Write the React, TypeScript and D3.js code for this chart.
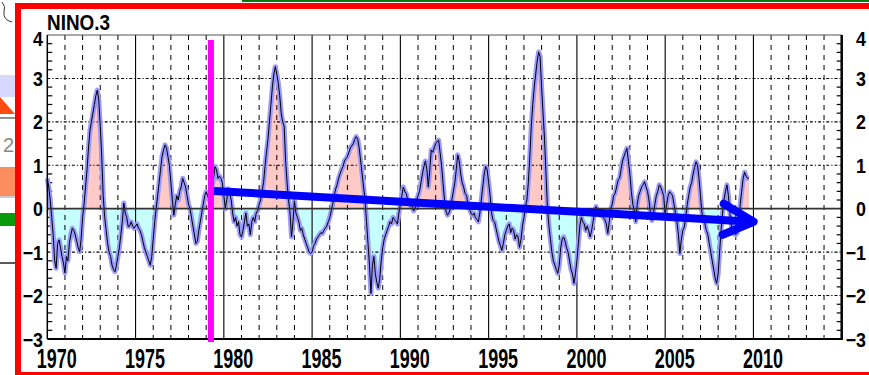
import React from 'react';
import * as d3 from 'd3';

const startYear = 1970;
const nino1970s = [
  0.7, 0.5, 0.2, -0.2, -0.6, -1.2, -1.37, -0.8, -0.72, -0.9, -1.1, -1.25,
  -1.48, -1.1, -1.2, -0.8, -0.6, -0.45, -0.5, -0.6, -0.75, -0.9, -0.99, -0.7,
  -0.2, 0.1, 0.5, 0.9, 1.4, 1.8, 2.0, 2.2, 2.4, 2.6, 2.73, 2.5,
  1.9, 1.2, 0.3, -0.2, -0.5, -0.8, -1.0, -1.1, -1.3, -1.4, -1.45, -1.3,
  -1.1, -0.9, -0.6, -0.3, 0.13, -0.1, -0.2, -0.41, -0.4, -0.3, -0.4, -0.45,
  -0.4, -0.35, -0.45, -0.5, -0.6, -0.75, -0.9, -1.0, -1.1, -1.2, -1.3, -1.1,
  -0.7, -0.3, 0.0, 0.3, 0.6, 0.9, 1.2, 1.35, 1.47, 1.4, 1.2, 1.0,
  0.6, 0.2, -0.15, 0.1, 0.3, 0.2, 0.4, 0.5, 0.7, 0.6, 0.5, 0.3,
  0.1, 0.0, -0.2, -0.4, -0.6, -0.8, -0.75, -0.5, -0.3, -0.1, 0.1, 0.3,
  0.39, 0.3, 0.2, 0.3, 0.5, 0.7, 0.97, 0.9, 0.7, 0.75, 0.7, 0.6,
];
const nino1980s = [
  0.3, 0.0, 0.2, 0.46, 0.35, 0.2, -0.1, -0.3, -0.2, -0.4, -0.3, -0.6,
  -0.65, -0.5, -0.3, -0.1, -0.4, -0.35, -0.6, -0.3, -0.2, -0.3, -0.1, -0.05,
  0.1, 0.2, 0.4, 0.6, 0.97, 1.3, 1.6, 2.0, 2.4, 2.8, 3.1, 3.27,
  3.1, 2.9, 2.6, 2.2, 2.0, 1.9, 1.1, 0.6, 0.2, -0.1, -0.65, -0.3,
  0.18, -0.1, -0.2, -0.3, -0.5, -0.45, -0.6, -0.7, -0.8, -0.9, -1.0, -1.03,
  -1.0, -0.85, -0.8, -0.7, -0.65, -0.6, -0.55, -0.57, -0.5, -0.45, -0.4, -0.3,
  -0.2, -0.05, 0.1, 0.3, 0.45, 0.55, 0.7, 0.8, 0.9, 0.97, 1.1, 1.15,
  1.2, 1.3, 1.4, 1.45, 1.5, 1.6, 1.66, 1.6, 1.4, 1.1, 0.8, 0.5,
  0.2, -0.3, -0.8, -1.3, -1.95, -1.3, -1.1, -1.5, -1.7, -1.83, -1.6, -1.2,
  -0.9, -0.7, -0.6, -0.5, -0.41, -0.3, -0.35, -0.2, -0.25, -0.3, -0.35, -0.1,
];
const nino1990s = [
  0.1, 0.3, 0.5, 0.4, 0.35, 0.2, 0.15, 0.05, 0.1, -0.05, 0.0, 0.2,
  0.3, 0.4, 0.6, 0.8, 0.97, 1.1, 0.9, 0.5, 0.9, 1.35, 1.3, 1.4,
  1.5, 1.55, 1.58, 1.3, 1.0, 0.6, 0.2, -0.05, -0.15, -0.1, 0.0, 0.2,
  0.4, 0.6, 0.9, 1.24, 1.1, 0.8, 0.6, 0.5, 0.35, 0.3, 0.1, 0.0,
  -0.1, -0.15, -0.1, -0.2, -0.25, -0.3, -0.1, 0.2, 0.5, 0.8, 0.97, 0.9,
  0.6, 0.3, -0.1, -0.27, -0.3, -0.45, -0.6, -0.75, -0.85, -0.96, -0.8, -0.6,
  -0.5, -0.4, -0.35, -0.55, -0.45, -0.5, -0.7, -0.6, -0.65, -0.89, -0.7, -0.4,
  -0.2, 0.05, 0.2, 0.6, 1.2, 1.9, 2.4, 2.8, 3.1, 3.4, 3.61, 3.5,
  2.8, 2.2, 1.6, 0.8, 0.0, -0.4, -0.7, -1.0, -1.2, -1.3, -1.4, -1.49,
  -1.3, -0.9, -0.7, -0.65, -0.75, -0.9, -1.0, -1.2, -1.4, -1.5, -1.72, -1.5,
];
const nino2000s = [
  -1.2, -0.8, -0.4, -0.2, -0.3, -0.35, -0.5, -0.4, -0.5, -0.65, -0.5, -0.3,
  -0.1, 0.05, -0.05, -0.1, -0.15, -0.05, -0.2, -0.25, -0.35, -0.57, -0.3, 0.0,
  0.1, 0.3, 0.35, 0.5, 0.66, 0.7, 0.9, 1.1, 1.2, 1.3, 1.39, 1.1,
  0.8, 0.4, 0.1, -0.03, -0.3, 0.1, 0.3, 0.4, 0.5, 0.55, 0.62, 0.5,
  0.4, 0.2, -0.1, -0.27, -0.1, 0.1, 0.3, 0.4, 0.55, 0.5, 0.4, 0.3,
  -0.15, 0.1, 0.3, 0.39, 0.35, 0.3, 0.1, -0.1, -0.3, -0.6, -1.03, -0.7,
  -0.5, -0.42, -0.2, 0.1, 0.3, 0.5, 0.6, 0.8, 0.95, 1.08, 1.0, 0.7,
  0.3, -0.1, -0.2, -0.35, -0.5, -0.6, -0.8, -1.0, -1.2, -1.4, -1.6, -1.72,
  -1.5, -1.0, -0.5, -0.1, 0.2, 0.4, 0.55, 0.3, -0.1, -0.4, -0.57, -0.55,
  -0.6, -0.55, -0.3, 0.1, 0.4, 0.7, 0.84, 0.75, 0.7, 0.7,
];

const xLabelYears = [1970, 1975, 1980, 1985, 1990, 1995, 2000, 2005, 2010];
const yTickValues = [-3, -2, -1, 0, 1, 2, 3, 4];
const chartTitle = 'NINO.3';
const markerYear = 1979.27;
const trendFrom = { t: 1979.44, v: 0.41 };
const trendTo = { t: 2009.9, v: -0.3 };

const W = 869;
const H = 375;
const FONT = "'Liberation Sans', Arial, sans-serif";

export default function App() {
  const x = d3.scaleLinear().domain([1970, 2015]).range([47.3, 841.7]);
  const y = d3.scaleLinear().domain([-3, 4]).range([339, 35]);
  const values = [...nino1970s, ...nino1980s, ...nino1990s, ...nino2000s];
  const data = values.map((v, i) => ({ t: startYear + i / 12, v }));

  const line = d3.line<{ t: number; v: number }>().x(d => x(d.t)).y(d => y(d.v));
  const area = d3
    .area<{ t: number; v: number }>()
    .x(d => x(d.t))
    .y0(y(0))
    .y1(d => y(d.v));

  const [x0, x1] = x.range();
  const [yb, yt] = y.range();
  const y0 = y(0);

  const allYears = d3.range(1971, 2015);
  const minorTicks = d3.range(-3, 4.001, 0.2).filter(v => Math.abs(v - Math.round(v)) > 0.01);

  const fmt = (v: number) => (v < 0 ? '\u2212' + Math.abs(v) : String(v));

  const tipX = x(trendTo.t) + 2;
  const tipY = y(trendTo.v);

  return (
    <svg
      width={W}
      height={H}
      style={{ position: 'absolute', left: 0, top: 0, background: '#fff' }}
      fontFamily={FONT}
    >
      <defs>
        <clipPath id="posClip">
          <rect x={x0} y={yt} width={x1 - x0} height={y0 - yt} />
        </clipPath>
        <clipPath id="negClip">
          <rect x={x0} y={y0} width={x1 - x0} height={yb - y0} />
        </clipPath>
      </defs>
      <rect x={0} y={0} width={W} height={H} fill="#fff" />

      {/* fragments of neighbouring content outside the frame */}
      <rect x={0} y={75} width={15} height={22} fill="#d8d8ff" />
      <polygon points="0,97 15,114 0,114" fill="#ff4a10" />
      <line x1={0} y1={118} x2={15} y2={118} stroke="#222" strokeWidth={1} />
      <text x={14} y={152} fontSize={20} fill="#888" textAnchor="end">2</text>
      <rect x={0} y={167} width={15} height={29} fill="#fb8d5f" />
      <line x1={0} y1={197} x2={15} y2={197} stroke="#999" strokeWidth={1} />
      <rect x={0} y={213} width={15} height={13} fill="#0a9a0a" />
      <line x1={0} y1={263} x2={15} y2={263} stroke="#222" strokeWidth={1.5} />
      <path d="M2,2 Q6,6 4,12 Q3,20 12,22" fill="none" stroke="#333" strokeWidth={1} />
      <rect x={242} y={0} width={W - 242} height={2} fill="#0a7a0a" />

      {/* red frame */}
      <rect x={18} y={6} width={W + 20} height={369} fill="none" stroke="#ff0000" strokeWidth={6} />

      {/* title */}
      <text x={47} y={30} fontSize={22} fontWeight="bold" textLength={63} lengthAdjust="spacingAndGlyphs">
        {chartTitle}
      </text>

      {/* data fills */}
      <path d={area(data) || ''} fill="#ffc9c6" clipPath="url(#posClip)" />
      <path d={area(data) || ''} fill="#c6ffff" clipPath="url(#negClip)" />

      {/* grid */}
      {allYears.map(yr =>
        yr % 5 === 0 ? (
          <line key={'v' + yr} x1={x(yr)} x2={x(yr)} y1={yt} y2={yb} stroke="#000" strokeWidth={1.1} />
        ) : (
          <line
            key={'v' + yr}
            x1={x(yr)}
            x2={x(yr)}
            y1={yt}
            y2={yb}
            stroke="#000"
            strokeWidth={1}
            strokeDasharray="5,5"
          />
        )
      )}
      {yTickValues
        .filter(v => v !== 0 && v !== -3 && v !== 4)
        .map(v => (
          <line
            key={'h' + v}
            x1={x0}
            x2={x1}
            y1={y(v)}
            y2={y(v)}
            stroke="#000"
            strokeWidth={1.1}
            strokeDasharray="3,2,1.2,2"
          />
        ))}
      {minorTicks.map(v => (
        <g key={'m' + v.toFixed(1)}>
          <line x1={x0} x2={x0 + 5} y1={y(v)} y2={y(v)} stroke="#000" strokeWidth={1.2} />
          <line x1={x1 - 5} x2={x1} y1={y(v)} y2={y(v)} stroke="#000" strokeWidth={1.2} />
        </g>
      ))}

      {/* series */}
      <path d={line(data) || ''} fill="none" stroke="#9a9aff" strokeWidth={5} strokeLinejoin="round" />
      <path d={line(data) || ''} fill="none" stroke="#000" strokeWidth={1} strokeLinejoin="round" />

      {/* zero line */}
      <line x1={x0} x2={x1} y1={y0} y2={y0} stroke="#333" strokeWidth={1.8} />

      {/* frame of the plot */}
      <line x1={x0} x2={x1} y1={yt} y2={yt} stroke="#555" strokeWidth={1.2} />
      <line x1={x0} x2={x0} y1={yt} y2={yb} stroke="#000" strokeWidth={1.5} />
      <line x1={x1} x2={x1} y1={yt} y2={yb + 1} stroke="#000" strokeWidth={2.5} />
      <line x1={x0} x2={x1} y1={yb} y2={yb} stroke="#000" strokeWidth={2.2} />

      {/* y labels */}
      {yTickValues.map(v => (
        <g key={'yl' + v}>
          <text
            x={43}
            y={y(v) + (v === 4 ? 3 : 0)}
            fontSize={21}
            fontWeight="bold"
            textAnchor="end"
            dominantBaseline="central"
            transform={`translate(43,0) scale(0.85,1) translate(-43,0)`}
          >
            {fmt(v)}
          </text>
          <text
            x={866}
            y={y(v) + (v === 4 ? 3 : 0)}
            fontSize={21}
            fontWeight="bold"
            textAnchor="end"
            dominantBaseline="central"
            transform={`translate(866,0) scale(0.85,1) translate(-866,0)`}
          >
            {fmt(v)}
          </text>
        </g>
      ))}

      {/* x labels */}
      {xLabelYears.map(yr => (
        <text
          key={'xl' + yr}
          x={x(yr) + 9.5 - 20}
          y={368}
          fontSize={28}
          fontWeight="bold"
          textLength={40}
          lengthAdjust="spacingAndGlyphs"
        >
          {yr}
        </text>
      ))}

      {/* annotations */}
      <line x1={x(markerYear)} x2={x(markerYear)} y1={40} y2={342} stroke="#ff00ff" strokeWidth={6} />
      <line
        x1={x(trendFrom.t)}
        y1={y(trendFrom.v)}
        x2={x(trendTo.t)}
        y2={y(trendTo.v)}
        stroke="#0000ff"
        strokeWidth={8}
      />
      <polyline
        points={`${tipX - 30},${tipY - 18} ${tipX},${tipY} ${tipX - 31},${tipY + 13}`}
        fill="none"
        stroke="#0000ff"
        strokeWidth={8}
        strokeLinecap="round"
        strokeLinejoin="round"
      />
    </svg>
  );
}
